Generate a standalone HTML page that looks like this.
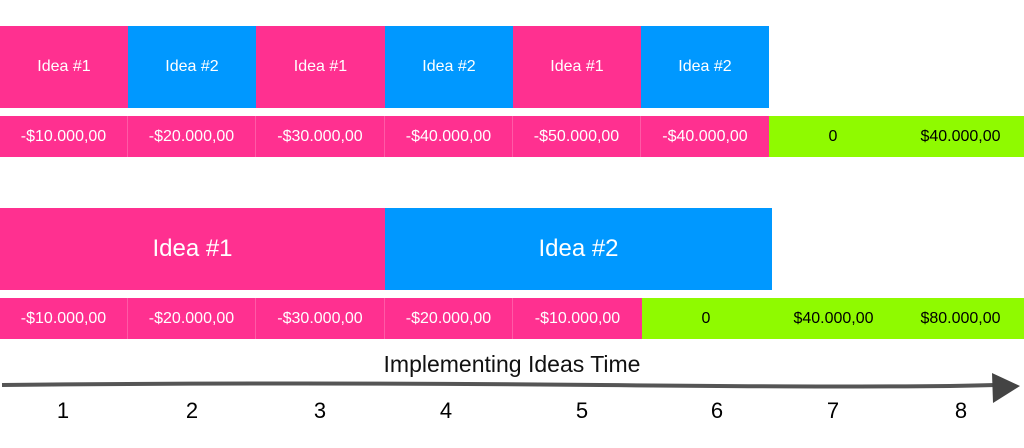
<!DOCTYPE html><html><head><style>
body{margin:0;width:1024px;height:448px;background:#fff;position:relative;overflow:hidden;font-family:"Liberation Sans",sans-serif}
div.c{position:absolute;display:flex;align-items:center;justify-content:center;box-sizing:border-box}
.p{background:#ff3090;color:#fff}.b{background:#0098ff;color:#fff}.g{background:#8ffa00;color:#000}
.s{font-size:16px}.l{font-size:24px}
.n{position:absolute;top:398px;font-size:22px;width:40px;text-align:center}
</style></head><body>
<div class="c p s" style="left:0;top:26px;width:128px;height:82px">Idea #1</div>
<div class="c b s" style="left:128px;top:26px;width:128px;height:82px">Idea #2</div>
<div class="c p s" style="left:256px;top:26px;width:129px;height:82px">Idea #1</div>
<div class="c b s" style="left:385px;top:26px;width:128px;height:82px">Idea #2</div>
<div class="c p s" style="left:513px;top:26px;width:128px;height:82px">Idea #1</div>
<div class="c b s" style="left:641px;top:26px;width:128px;height:82px">Idea #2</div>

<div class="c p s" style="left:0;top:116px;width:128px;height:41px;border-right:1px solid #ff5aa6">-$10.000,00</div>
<div class="c p s" style="left:128px;top:116px;width:128px;height:41px;border-right:1px solid #ff5aa6">-$20.000,00</div>
<div class="c p s" style="left:256px;top:116px;width:129px;height:41px;border-right:1px solid #ff5aa6">-$30.000,00</div>
<div class="c p s" style="left:385px;top:116px;width:128px;height:41px;border-right:1px solid #ff5aa6">-$40.000,00</div>
<div class="c p s" style="left:513px;top:116px;width:128px;height:41px;border-right:1px solid #ff5aa6">-$50.000,00</div>
<div class="c p s" style="left:641px;top:116px;width:128px;height:41px">-$40.000,00</div>
<div class="c g s" style="left:769px;top:116px;width:128px;height:41px">0</div>
<div class="c g s" style="left:897px;top:116px;width:127px;height:41px">$40.000,00</div>

<div class="c p l" style="left:0;top:208px;width:385px;height:82px">Idea #1</div>
<div class="c b l" style="left:385px;top:208px;width:387px;height:82px">Idea #2</div>

<div class="c p s" style="left:0;top:298px;width:128px;height:41px;border-right:1px solid #ff5aa6">-$10.000,00</div>
<div class="c p s" style="left:128px;top:298px;width:128px;height:41px;border-right:1px solid #ff5aa6">-$20.000,00</div>
<div class="c p s" style="left:256px;top:298px;width:129px;height:41px;border-right:1px solid #ff5aa6">-$30.000,00</div>
<div class="c p s" style="left:385px;top:298px;width:128px;height:41px;border-right:1px solid #ff5aa6">-$20.000,00</div>
<div class="c p s" style="left:513px;top:298px;width:129px;height:41px">-$10.000,00</div>
<div class="c g s" style="left:642px;top:298px;width:128px;height:41px">0</div>
<div class="c g s" style="left:770px;top:298px;width:127px;height:41px">$40.000,00</div>
<div class="c g s" style="left:897px;top:298px;width:127px;height:41px">$80.000,00</div>

<div style="position:absolute;left:0;width:1024px;top:351px;text-align:center;font-size:23px;color:#111">Implementing Ideas Time</div>
<svg style="position:absolute;left:0;top:368px" width="1024" height="40">
<path d="M2 17 Q300 14 600 17 T995 17" stroke="#555" stroke-width="4" fill="none"/>
<polygon points="992,5 1020,18 993,35" fill="#444"/>
</svg>
<div class="n" style="left:43px">1</div><div class="n" style="left:172px">2</div><div class="n" style="left:300px">3</div><div class="n" style="left:426px">4</div><div class="n" style="left:562px">5</div><div class="n" style="left:697px">6</div><div class="n" style="left:813px">7</div><div class="n" style="left:941px">8</div>
</body></html>
